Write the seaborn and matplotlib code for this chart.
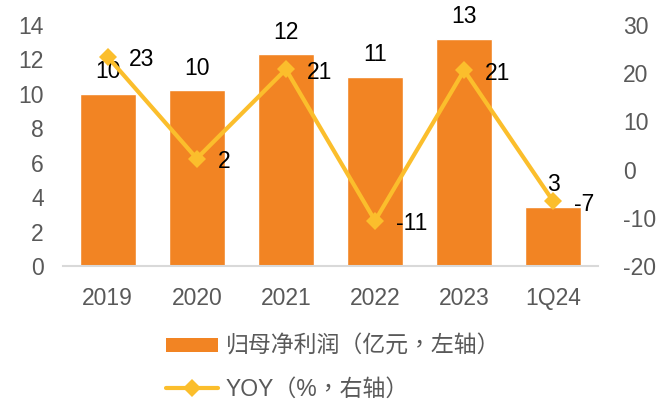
import matplotlib
matplotlib.use("Agg")
import matplotlib.pyplot as plt
import seaborn as sns
import pandas as pd
from matplotlib.patches import Patch
from matplotlib.lines import Line2D

# Net profit attributable to parent (100m CNY) and YoY growth (%)
periods = ["2019", "2020", "2021", "2022", "2023", "1Q24"]
net_profit = [10.0, 10.2, 12.3, 11.0, 13.2, 3.45]
yoy = [23.4, 2.3, 20.8, -10.6, 20.6, -6.6]
left_ticks = [0, 2, 4, 6, 8, 10, 12, 14]
right_ticks = [-20, -10, 0, 10, 20, 30]
bar_label = "归母净利润（亿元，左轴）"
line_label = "YOY（%，右轴）"

sns.set_theme(style="white")
plt.rcParams["font.family"] = ["Liberation Sans", "Noto Sans CJK TC", "DejaVu Sans"]
plt.rcParams["axes.unicode_minus"] = False

BAR_COLOR = "#F28423"
LINE_COLOR = "#FBBE2C"
TICK_COLOR = "#595959"
FS = 16.5

df = pd.DataFrame({"period": periods, "profit": net_profit, "yoy": yoy})

fig = plt.figure(figsize=(6.57, 4.0), dpi=100)
ax = fig.add_axes([0.096, 0.335, 0.814, 0.6025])

sns.barplot(data=df, x="period", y="profit", color=BAR_COLOR, width=0.63,
            saturation=1, ax=ax)
ax.set_xlim(-0.5, len(periods) - 0.5)
ax.set_ylim(0, 14)
ax.set_yticks(left_ticks)
ax.set_xlabel("")
ax.set_ylabel("")

for i, v in enumerate(net_profit):
    ax.annotate(f"{v:.0f}", (i, v), xytext=(0, 16), textcoords="offset points",
                ha="center", va="center", fontsize=FS, color="black")

ax2 = ax.twinx()
sns.lineplot(x=list(range(len(periods))), y=yoy, ax=ax2, color=LINE_COLOR,
             linewidth=3.0, marker="D", markersize=9, markeredgewidth=0)
ax2.set_ylim(-20, 30)
ax2.set_yticks(right_ticks)
ax2.set_ylabel("")

for i, v in enumerate(yoy):
    ax2.annotate(f"{v:.0f}", (i, v), xytext=(15, -2), textcoords="offset points",
                 ha="left", va="center", fontsize=FS, color="black")

for a in (ax, ax2):
    for s in a.spines.values():
        s.set_visible(False)
    a.grid(False)
ax.spines["bottom"].set_visible(True)
ax.spines["bottom"].set_color("#D9D9D9")
ax.spines["bottom"].set_linewidth(1.5)

ax.tick_params(axis="y", length=0, pad=14, labelsize=FS, labelcolor=TICK_COLOR)
ax.tick_params(axis="x", length=0, pad=15, labelsize=FS, labelcolor=TICK_COLOR)
ax2.tick_params(axis="y", length=0, pad=18, labelsize=FS, labelcolor=TICK_COLOR)

handles = [
    Patch(facecolor=BAR_COLOR, edgecolor="none"),
    Line2D([0], [0], color=LINE_COLOR, linewidth=3.0, marker="D",
           markersize=9, markeredgewidth=0),
]
leg = fig.legend(handles, [bar_label, line_label], loc="upper left",
                 bbox_to_anchor=(0.2527, 0.1625), frameon=False, fontsize=FS,
                 handlelength=2.26, handleheight=0.55, handletextpad=0.35,
                 labelspacing=0.85, borderaxespad=0, borderpad=0)
for t in leg.get_texts():
    t.set_color(TICK_COLOR)
    t.set_family(["Liberation Sans", "Noto Sans CJK TC"])

fig.savefig("out.png", dpi=100)
